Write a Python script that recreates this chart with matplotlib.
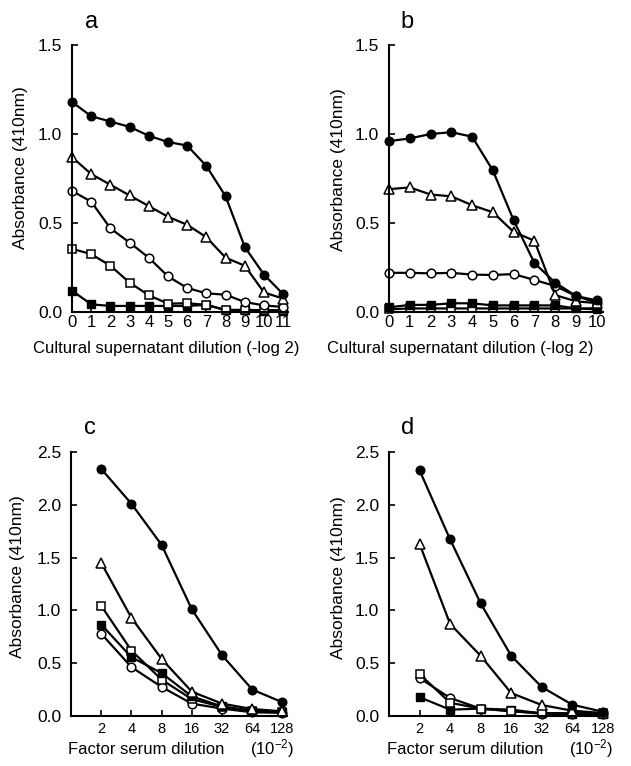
import matplotlib
matplotlib.use("Agg")
import matplotlib.pyplot as plt

plt.rcParams['font.family'] = ['Liberation Sans', 'DejaVu Sans']
plt.rcParams['mathtext.fontset'] = 'custom'
plt.rcParams['mathtext.rm'] = 'Liberation Sans'
plt.rcParams['mathtext.default'] = 'regular'

# ---- data ----
a_x = list(range(12))
a_filled_circle = [1.18, 1.10, 1.07, 1.04, 0.99, 0.955, 0.935, 0.82, 0.65, 0.365, 0.21, 0.10]
a_triangle      = [0.87, 0.775, 0.715, 0.655, 0.595, 0.535, 0.49, 0.42, 0.305, 0.26, 0.11, 0.075]
a_open_circle   = [0.68, 0.62, 0.47, 0.39, 0.305, 0.20, 0.135, 0.105, 0.097, 0.056, 0.037, 0.028]
a_open_square   = [0.355, 0.325, 0.26, 0.165, 0.094, 0.047, 0.049, 0.04, 0.012, 0.012, 0.01, 0.01]
a_filled_square = [0.12, 0.043, 0.034, 0.034, 0.034, 0.034, 0.034, 0.04, 0.01, 0.01, 0.008, 0.008]

b_x = list(range(11))
b_filled_circle = [0.96, 0.975, 1.00, 1.01, 0.985, 0.795, 0.515, 0.275, 0.165, 0.09, 0.065]
b_triangle      = [0.69, 0.70, 0.66, 0.65, 0.60, 0.56, 0.45, 0.40, 0.095, 0.06, 0.05]
b_open_circle   = [0.22, 0.22, 0.217, 0.22, 0.21, 0.208, 0.213, 0.18, 0.146, 0.09, 0.052]
b_open_square   = [0.015, 0.02, 0.02, 0.02, 0.02, 0.02, 0.02, 0.02, 0.02, 0.02, 0.02]
b_filled_square = [0.026, 0.04, 0.04, 0.049, 0.049, 0.037, 0.037, 0.037, 0.037, 0.02, 0.015]

cd_labels = ['2', '4', '8', '16', '32', '64', '128']
c_filled_circle = [2.34, 2.01, 1.62, 1.01, 0.576, 0.25, 0.13]
c_triangle      = [1.45, 0.93, 0.54, 0.23, 0.117, 0.066, 0.044]
c_open_square   = [1.044, 0.62, 0.344, 0.16, 0.085, 0.045, 0.035]
c_filled_square = [0.866, 0.557, 0.406, 0.186, 0.09, 0.05, 0.035]
c_open_circle   = [0.78, 0.463, 0.275, 0.117, 0.07, 0.035, 0.03]

d_filled_circle = [2.327, 1.672, 1.067, 0.57, 0.274, 0.107, 0.04]
d_triangle      = [1.63, 0.872, 0.57, 0.217, 0.104, 0.05, 0.028]
d_open_square   = [0.397, 0.125, 0.07, 0.044, 0.028, 0.025, 0.025]
d_open_circle   = [0.36, 0.17, 0.07, 0.047, 0.022, 0.022, 0.022]
d_filled_square = [0.178, 0.06, 0.07, 0.06, 0.025, 0.02, 0.02]

W, H = 631, 766
fig = plt.figure(figsize=(W / 100, H / 100), dpi=100)

def add_ax(left, top, right, bottom):
    return fig.add_axes([left / W, 1 - bottom / H, (right - left) / W, (bottom - top) / H])

styles = {
    'fc': dict(marker='o', mfc='black', mec='black', ms=6.2),
    'tr': dict(marker='^', mfc='white', mec='black', ms=7, mew=1.1),
    'oc': dict(marker='o', mfc='white', mec='black', ms=6.2, mew=1.1),
    'os': dict(marker='s', mfc='white', mec='black', ms=6, mew=1.1),
    'fs': dict(marker='s', mfc='black', mec='black', ms=6),
}

def style_ax(ax, xsize, xpad):
    for s in ['top', 'right']:
        ax.spines[s].set_visible(False)
    for s in ['left', 'bottom']:
        ax.spines[s].set_linewidth(1.5)
    ax.tick_params(direction='in', length=4, width=1.2, colors='black')
    ax.tick_params(axis='y', pad=7, labelsize=12.5)
    ax.tick_params(axis='x', pad=xpad, labelsize=xsize)

def plot_series(ax, x, series):
    for key, vals in series:
        ax.plot(x, vals, color='black', lw=1.6, clip_on=False, **styles[key])

# panel a
ax = add_ax(72, 45, 288, 312)
plot_series(ax, a_x, [('fs', a_filled_square), ('os', a_open_square), ('oc', a_open_circle),
                      ('tr', a_triangle), ('fc', a_filled_circle)])
ax.set_xlim(0, 11.25)
ax.set_ylim(0, 1.5)
ax.set_yticks([0, 0.5, 1.0, 1.5])
ax.set_yticklabels(['0.0', '0.5', '1.0', '1.5'])
ax.set_xticks(a_x)
ax.set_xticklabels([str(v) for v in a_x])
style_ax(ax, 12, 2)

# panel b
ax = add_ax(389, 45, 603, 312)
plot_series(ax, b_x, [('os', b_open_square), ('fs', b_filled_square), ('oc', b_open_circle),
                      ('tr', b_triangle), ('fc', b_filled_circle)])
ax.set_xlim(0, 10.3)
ax.set_ylim(0, 1.5)
ax.set_yticks([0, 0.5, 1.0, 1.5])
ax.set_yticklabels(['0.0', '0.5', '1.0', '1.5'])
ax.set_xticks(b_x)
ax.set_xticklabels([str(v) for v in b_x])
style_ax(ax, 12, 2)

# panel c
pos = list(range(1, 8))
ax = add_ax(71, 452, 287, 716)
plot_series(ax, pos, [('oc', c_open_circle), ('os', c_open_square), ('fs', c_filled_square),
                      ('tr', c_triangle), ('fc', c_filled_circle)])
ax.set_xlim(0, 7.15)
ax.set_ylim(0, 2.5)
ax.set_yticks([0, 0.5, 1.0, 1.5, 2.0, 2.5])
ax.set_yticklabels(['0.0', '0.5', '1.0', '1.5', '2.0', '2.5'])
ax.set_xticks(pos)
ax.set_xticklabels(cd_labels)
style_ax(ax, 10.5, 4.5)

# panel d
ax = add_ax(389, 452, 605, 716)
plot_series(ax, pos, [('fs', d_filled_square), ('oc', d_open_circle), ('os', d_open_square),
                      ('tr', d_triangle), ('fc', d_filled_circle)])
ax.set_xlim(0, 7.07)
ax.set_ylim(0, 2.5)
ax.set_yticks([0, 0.5, 1.0, 1.5, 2.0, 2.5])
ax.set_yticklabels(['0.0', '0.5', '1.0', '1.5', '2.0', '2.5'])
ax.set_xticks(pos)
ax.set_xticklabels(cd_labels)
style_ax(ax, 10.5, 4.5)

def ftext(x, y, s, **kw):
    fig.text(x / W, 1 - y / H, s, **kw)

# panel letters
ftext(92, 22, 'a', fontsize=17, ha='center', va='center')
ftext(407, 22, 'b', fontsize=17, ha='center', va='center')
ftext(90, 428, 'c', fontsize=17, ha='center', va='center')
ftext(408, 428, 'd', fontsize=17, ha='center', va='center')

# y labels
for x, y in [(21, 168), (338, 170), (18, 577), (338, 578)]:
    ftext(x, y, 'Absorbance (410nm)', fontsize=12.5, rotation=90, ha='center', va='center')

# x labels
ftext(166, 349, 'Cultural supernatant dilution (-log 2)', fontsize=12, ha='center', va='center')
ftext(460, 349, 'Cultural supernatant dilution (-log 2)', fontsize=12, ha='center', va='center')
ftext(68, 754, 'Factor serum dilution', fontsize=12, ha='left', va='baseline')
ftext(387, 754, 'Factor serum dilution', fontsize=12, ha='left', va='baseline')
ftext(250, 754, r'(10$^{-2}$)', fontsize=12, ha='left', va='baseline')
ftext(569, 754, r'(10$^{-2}$)', fontsize=12, ha='left', va='baseline')

fig.savefig('out.png', dpi=100, facecolor='white')
